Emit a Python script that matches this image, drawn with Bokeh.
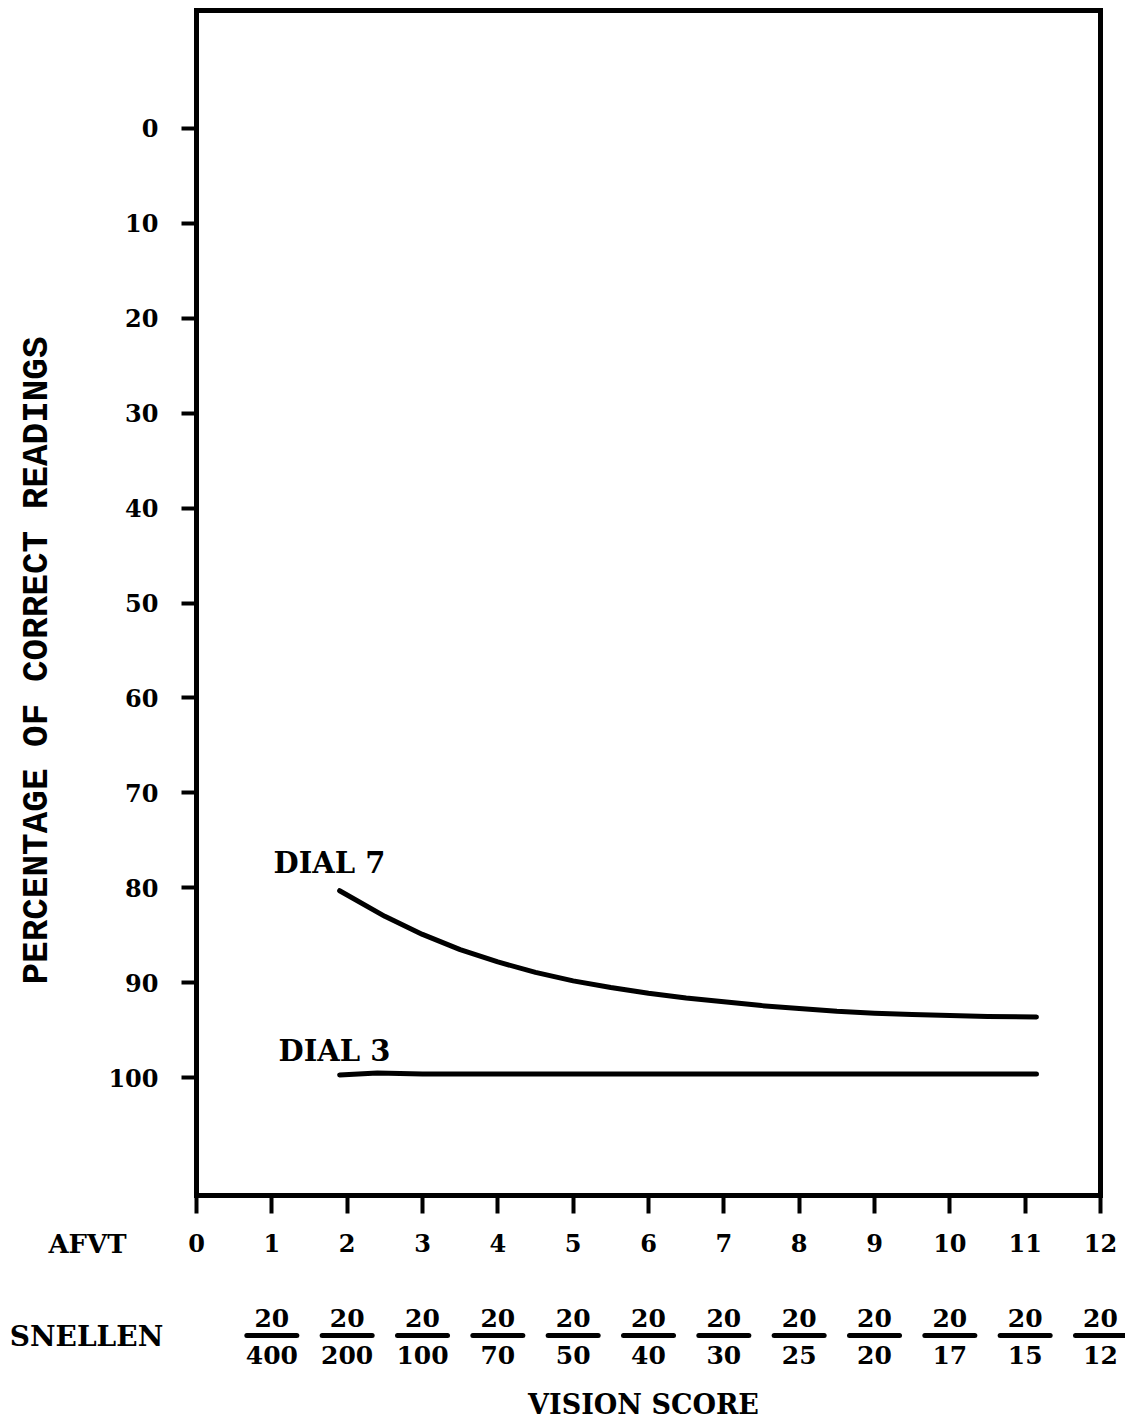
import math
from bokeh.plotting import figure
from bokeh.models import Range1d, FixedTicker, LinearAxis
from bokeh.embed import file_html
from bokeh.resources import INLINE
from bokeh.core.properties import value

# ---------------- data ----------------
afvt_ticks = [0, 1, 2, 3, 4, 5, 6, 7, 8, 9, 10, 11, 12]
y_ticks = [0, 10, 20, 30, 40, 50, 60, 70, 80, 90, 100]
snellen_x = [1, 2, 3, 4, 5, 6, 7, 8, 9, 10, 11, 12]
snellen_num = ["20", "20", "20", "20", "20", "20", "20", "20", "20", "20", "20", "20"]
snellen_den = ["400", "200", "100", "70", "50", "40", "30", "25", "20", "17", "15", "12"]

dial7_x = [1.9, 2.5, 3.0, 3.5, 4.0, 4.5, 5.0, 5.5, 6.0, 6.5, 7.0, 7.5, 8.0, 8.5, 9.0, 9.5, 10.0, 10.5, 11.15]
dial7_y = [80.3, 83.0, 84.9, 86.5, 87.8, 88.9, 89.8, 90.5, 91.1, 91.6, 92.0, 92.4, 92.7, 93.0, 93.2, 93.35, 93.45, 93.55, 93.6]
dial3_x = [1.9, 2.4, 3.0, 11.15]
dial3_y = [99.7, 99.5, 99.6, 99.6]

# ---------------- layout (page pixels -> data) ----------------
W, H = 1125, 1423
FL, FR, FT, FB = 196, 1100, 10, 1195          # chart box edges in pixels
X0, X1 = 0, 12
YT, YB = -12.4, 112.4


def xd(px):
    return X0 + (px - FL) / (FR - FL) * (X1 - X0)


def yd(py):
    return YT + (py - FT) / (FB - FT) * (YB - YT)


SERIF = "DejaVu Serif"

p = figure(width=W, height=H, output_backend="svg", toolbar_location=None,
           x_range=Range1d(xd(0), xd(W)), y_range=Range1d(yd(H), yd(0)),
           x_axis_location=None, y_axis_location=None,
           min_border=0)

p.background_fill_color = "white"
p.border_fill_color = "white"
p.outline_line_color = None
p.xgrid.visible = False
p.ygrid.visible = False

# y axis (fixed at the box's left edge)
ya = LinearAxis(fixed_location=X0, ticker=FixedTicker(ticks=y_ticks))
ya.axis_line_color = None
ya.minor_tick_line_color = None
ya.major_tick_in = 0
ya.major_tick_out = 15
ya.major_tick_line_width = 4
ya.major_tick_line_color = "black"
ya.major_label_standoff = 23
ya.major_label_text_font = SERIF
ya.major_label_text_font_style = "bold"
ya.major_label_text_font_size = "24px"
ya.major_label_text_color = "black"
p.add_layout(ya, "left")

# x axis: AFVT (fixed at the box's bottom edge)
xa = LinearAxis(fixed_location=YB, ticker=FixedTicker(ticks=afvt_ticks))
xa.axis_line_color = None
xa.minor_tick_line_color = None
xa.major_tick_in = 0
xa.major_tick_out = 18
xa.major_tick_line_width = 4
xa.major_tick_line_color = "black"
xa.major_label_standoff = 20
xa.major_label_text_font = SERIF
xa.major_label_text_font_style = "bold"
xa.major_label_text_font_size = "24px"
xa.major_label_text_color = "black"
p.add_layout(xa, "below")

# chart box
p.quad(left=[X0], right=[X1], top=[YT], bottom=[YB], fill_color=None,
       line_color="black", line_width=5, line_join="miter")

# curves
p.line(dial7_x, dial7_y, line_color="black", line_width=5, line_cap="round", line_join="round")
p.line(dial3_x, dial3_y, line_color="black", line_width=5, line_cap="round", line_join="round")


def txt(xs, ys, ts, size, align="center", font=SERIF, angle=0.0):
    p.text(x=xs, y=ys, text=ts, angle=angle,
           text_font=value(font), text_font_style="bold", text_font_size=size,
           text_color="black", text_align=align, text_baseline="middle")


txt([xd(273), xd(278)], [yd(862), yd(1050)], ["DIAL 7", "DIAL 3"], "29px", align="left")

# y axis title
txt([xd(37)], [yd(660)], ["PERCENTAGE OF CORRECT READINGS"], "36px",
    font="Liberation Mono", angle=math.pi / 2)

# row headings
txt([xd(87)], [yd(1243)], ["AFVT"], "26px")
txt([xd(86)], [yd(1336)], ["SNELLEN"], "28px")
txt([xd(643)], [yd(1404)], ["VISION SCORE"], "27px")

# Snellen fractions
y_num = yd(1317)
y_bar = yd(1335)
y_den = yd(1354)
half = xd(FL + 25) - xd(FL)
txt(snellen_x, [y_num] * len(snellen_x), snellen_num, "25px")
txt(snellen_x, [y_den] * len(snellen_x), snellen_den, "25px")
p.segment(x0=[sx - half for sx in snellen_x], y0=[y_bar] * len(snellen_x),
          x1=[sx + half for sx in snellen_x], y1=[y_bar] * len(snellen_x),
          line_color="black", line_width=5, line_cap="round")

open("out.html", "w").write(file_html(p, INLINE))
